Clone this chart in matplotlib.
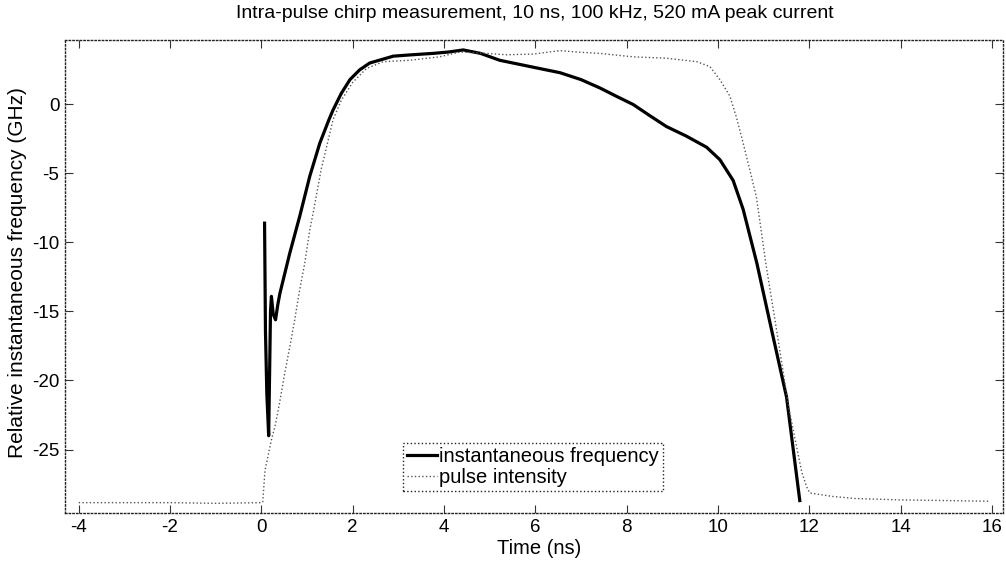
import matplotlib
matplotlib.use("Agg")
import matplotlib.pyplot as plt

plt.rcParams['font.family'] = ['Liberation Sans Narrow', 'Liberation Sans', 'DejaVu Sans']

# ---- data ----
t_freq = [0.07, 0.09, 0.12, 0.16, 0.20, 0.22, 0.26, 0.31, 0.36, 0.405, 0.62, 0.84,
          1.06, 1.28, 1.48, 1.57, 1.75, 1.94, 2.15, 2.37, 2.89, 3.3, 3.76, 4.1,
          4.42, 4.8, 5.22, 5.95, 6.54, 7.0, 7.41, 7.8, 8.14, 8.5, 8.87, 9.31,
          9.75, 10.04, 10.33, 10.55, 10.85, 11.17, 11.5, 11.79]
f_freq = [-8.6, -16.5, -21.0, -24.0, -15.0, -13.9, -15.2, -15.6, -14.5, -13.7, -10.8, -8.1,
          -5.2, -2.8, -1.1, -0.4, 0.8, 1.8, 2.5, 3.0, 3.5, 3.6, 3.7, 3.8,
          3.95, 3.7, 3.2, 2.7, 2.3, 1.8, 1.2, 0.55, 0.0, -0.8, -1.6, -2.3,
          -3.1, -4.0, -5.5, -7.6, -11.5, -16.3, -21.2, -28.7]

t_int = [-4.0, -3.0, -2.0, -1.0, 0.0, 0.03, 0.08, 0.22, 0.30, 0.40, 0.51, 0.62, 0.73,
         0.84, 0.95, 1.06, 1.16, 1.31, 1.57, 1.75, 2.0, 2.3, 2.67, 3.25, 3.9, 4.35,
         4.93, 5.37, 5.95, 6.54, 6.9, 7.41, 8.14, 8.87, 9.53, 9.82, 10.04, 10.26,
         10.4, 10.55, 10.7, 10.84, 11.05, 11.28, 11.55, 11.83, 11.94, 12.01, 12.51,
         13.0, 13.98, 15.0, 15.95]
f_int = [-28.85, -28.85, -28.85, -28.9, -28.85, -28.8, -26.5, -24.3, -23.3, -21.6, -19.5, -17.6, -15.6,
         -13.4, -11.5, -9.1, -7.4, -4.7, -1.1, 0.3, 1.6, 2.6, 3.1, 3.2, 3.45, 3.8,
         3.7, 3.6, 3.65, 3.9, 3.8, 3.7, 3.45, 3.35, 3.1, 2.75, 1.8, 0.6,
         -0.9, -2.8, -4.8, -6.7, -11.6, -16.3, -22.0, -26.6, -27.7, -28.15, -28.4,
         -28.55, -28.65, -28.7, -28.75]

x_ticks = [-4, -2, 0, 2, 4, 6, 8, 10, 12, 14, 16]
y_ticks = [-25, -20, -15, -10, -5, 0]

title = "Intra-pulse chirp measurement, 10 ns, 100 kHz, 520 mA peak current"
xlabel = "Time (ns)"
ylabel = "Relative instantaneous frequency (GHz)"
labels = ["instantaneous frequency", "pulse intensity"]

# ---- figure ----
W, H = 1006, 563
fig = plt.figure(figsize=(W / 100, H / 100), dpi=100)
ax = fig.add_axes([65 / W, 1 - 513 / H, (1003 - 65) / W, (513 - 40) / H])

ax.plot(t_freq, f_freq, color='black', lw=2.3, solid_joinstyle='round', label=labels[0])
ax.plot(t_int, f_int, color='#555555', lw=1.0, ls=':', label=labels[1])

ax.set_xlim(-4.3, 16.24)
ax.set_ylim(-29.6, 4.67)
ax.set_xticks(x_ticks)
ax.set_xticklabels([str(v) for v in x_ticks])
ax.set_yticks(y_ticks)
ax.set_yticklabels([str(v) for v in y_ticks])
ax.tick_params(direction='in', length=6, width=0.8, top=True, right=True,
               labelsize=13.5, pad=4, color='#333333')
for s in ax.spines.values():
    s.set_linestyle(':')
    s.set_linewidth(1.0)
    s.set_color('#222222')

leg = ax.legend(loc='lower left', bbox_to_anchor=(0.360, 0.0465), fontsize=14.5,
                handlelength=1.5, handletextpad=0.1, borderpad=0.2,
                labelspacing=0.1, fancybox=False, framealpha=1, borderaxespad=0)
leg.get_frame().set_linestyle(':')
leg.get_frame().set_edgecolor('#222222')
leg.get_frame().set_linewidth(1.0)

fig.text(535 / W, 1 - 14 / H, title, ha='center', va='center', fontsize=14)
fig.text(539 / W, 1 - 548 / H, xlabel, ha='center', va='center', fontsize=14.5)
fig.text(18 / W, 1 - 273 / H, ylabel, ha='center', va='center', rotation=90, fontsize=15)

fig.savefig("out.png", dpi=100)
